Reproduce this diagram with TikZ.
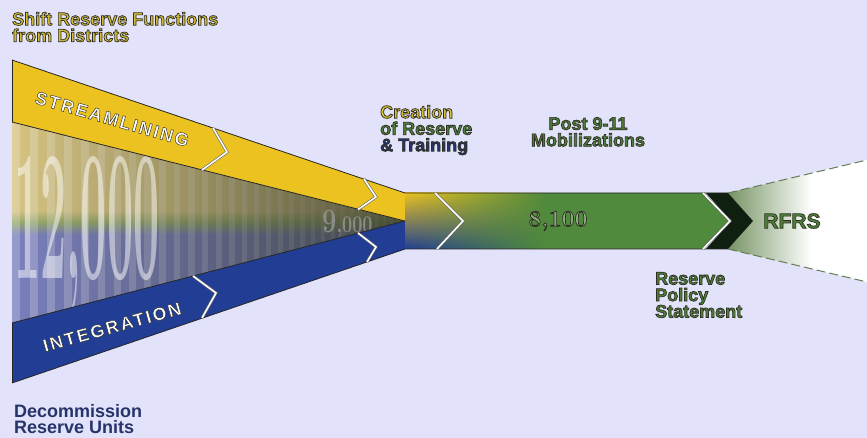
\documentclass[tikz,border=0pt]{standalone}
\usepackage{fontspec}
\usetikzlibrary{fadings}
\newfontfamily\labelfont{Liberation Sans}
\newfontfamily\bandfont{Liberation Sans}[LetterSpace=11]
\newcommand\edged[2][0.7]{\special{pdf:literal direct 2 Tr #1 w 0.18 0.18 0.14 RG}#2\special{pdf:literal direct 0 Tr}}

\definecolor{paper}{RGB}{226,226,250}
\definecolor{bandyellow}{RGB}{236,194,32}
\definecolor{bandblue}{RGB}{33,62,148}
\definecolor{bandgreen}{RGB}{80,138,60}
\definecolor{innertan}{RGB}{214,196,130}
\definecolor{innerslate}{RGB}{122,128,190}
\definecolor{innermix}{RGB}{150,170,110}
\definecolor{tipshade}{RGB}{50,55,40}
\definecolor{navytext}{RGB}{38,52,105}
\definecolor{goldtext}{RGB}{212,188,52}
\definecolor{leaftext}{RGB}{76,128,56}
\definecolor{chevdark}{RGB}{16,32,16}
\definecolor{funnelgreen}{RGB}{118,148,100}

\pgfdeclareverticalshading{innersplit}{100bp}{color(0bp)=(innerslate); color(25bp)=(innerslate); color(47bp)=(innerslate); color(50bp)=(innermix); color(53bp)=(innertan); color(75bp)=(innertan); color(100bp)=(innertan)}
\pgfdeclarehorizontalshading{funnelfade}{100bp}{color(0bp)=(funnelgreen); color(25bp)=(funnelgreen); color(55bp)=(white); color(100bp)=(white)}
\tikzfading[name=tipfade, left color=transparent!100, middle color=transparent!88, right color=transparent!20]
\tikzfading[name=foldfade, left color=transparent!100, middle color=transparent!15, right color=transparent!100]
\tikzfading[name=mixfade, left color=transparent!0, middle color=transparent!35, right color=transparent!100]

\begin{document}
\begin{tikzpicture}[
        x=1pt, y=-1pt,
        rim/.style={draw=black!85, line width=0.8pt, line join=round},
        notch/.style={draw=black!60, line width=0.6pt, double=white, double distance=1.6pt},
        funnelrim/.style={draw=funnelgreen!85!black, line width=1pt, dash pattern=on 9pt off 4pt},
        heading/.style={font=\labelfont\bfseries\fontsize{18}{16.5}\selectfont, align=left, inner sep=0pt},
        bandtext/.style={font=\bandfont\bfseries\fontsize{18}{18}\selectfont, text=white, inner sep=0pt},
        count/.style={font=\rmfamily\bfseries, inner sep=0pt}
    ]
        \fill[paper] (0,0) rectangle (867,438);
        \useasboundingbox (0,0) rectangle (867,438);

        \coordinate (yt) at (12,60);
        \coordinate (yb) at (12,122);
        \coordinate (bt) at (12,323);
        \coordinate (bb) at (12,383);
        \coordinate (jt) at (405,193);
        \coordinate (jm) at (405,221);
        \coordinate (jb) at (405,249);

        % wedge between the two bands
        \shade[shading=innersplit] (yb) -- (jm) -- (bt) -- cycle;
        \begin{scope}
            \clip (yb) -- (jm) -- (bt) -- cycle;
            \foreach \i in {0,...,33}
                \fill[white, opacity=0.22] ({12+18*\i-0.18*\i*\i},100) rectangle ({12+18*\i-0.18*\i*\i+0.45*(18-0.36*\i)},340);
            \fill[tipshade, path fading=tipfade] (12,122) rectangle (405,323);
        \end{scope}
        \node[count, text=white, text opacity=0.5, xscale=0.25, anchor=base west, font=\rmfamily\bfseries\fontsize{186}{186}\selectfont] (bignum) at (14,279) {12,000};
        \node[count, text=white!58!black, text opacity=0.85, xscale=0.75, anchor=base west] (midnum) at (322,233) {{\fontsize{34}{34}\selectfont 9}{\fontsize{24}{24}\selectfont ,000}};

        % bands
        \fill[bandyellow] (yt) -- (jt) -- (jm) -- (yb) -- cycle;
        \fill[bandblue] (bt) -- (jm) -- (jb) -- (bb) -- cycle;
        \fill[bandgreen] (jt) -- (704,193) -- (731,221) -- (704,249) -- (jb) -- cycle;
        \shade[top color=bandyellow, middle color=bandgreen, bottom color=bandblue, path fading=mixfade] (405,193) rectangle (545,249);
        \begin{scope}
            \clip (yt) -- (jt) -- (440,193) -- (440,249) -- (jb) -- (bb) -- cycle;
            \fill[black, path fading=foldfade] (378,150) rectangle (436,290);
        \end{scope}

        % funnel
        \shade[shading=funnelfade] (728,193) -- (867,160) -- (867,282) -- (728,249) -- (753,221) -- cycle;
        \draw[funnelrim] (728,193) -- (867,160);
        \draw[funnelrim] (728,249) -- (867,282);
        \fill[chevdark] (706,193) -- (728,193) -- (753,221) -- (728,249) -- (706,249) -- (731,221) -- cycle;

        \draw[rim] (yt) -- (jt) -- (728,193);
        \draw[rim] (bb) -- (jb) -- (728,249);
        \draw[rim] (yb) -- (jm) -- (bt);
        \draw[rim] (yt) -- (yb);
        \draw[rim] (bt) -- (bb);

        \draw[notch] (213,128) -- (227,152) -- (202,170);
        \draw[notch] (364,179) -- (376,197) -- (358,209.5);
        \draw[notch] (193,276) -- (216,293) -- (202,318);
        \draw[notch] (358,233) -- (376,247) -- (367,262);
        \draw[notch] (435,193) -- (463,221) -- (437,249);
        \draw[notch] (703,193) -- (730,221) -- (703,249);

        \node[bandtext, rotate=-16] (stream) at (112,119) {\edged[0.45]{STREAMLINING}};
        \node[bandtext, rotate=15.5] (integ) at (112,327) {\edged[0.45]{INTEGRATION}};
        \node[count, text=leaftext!65!white, font=\rmfamily\bfseries\fontsize{23}{23}\selectfont] (endnum) at (558,221) {\edged{8,100}};

        \node[heading, text=goldtext, anchor=north west] (shift) at (12,12) {\edged{Shift Reserve Functions}\\\edged{from Districts}};
        \node[heading, anchor=north west] (creation) at (380,105) {\textcolor{goldtext}{\edged{Creation}}\\\textcolor{leaftext}{\edged{of Reserve}}\\\textcolor{navytext}{\edged{\& Training}}};
        \node[heading, text=leaftext, anchor=north, align=center] (post) at (588,117) {\edged{Post 9-11}\\\edged{Mobilizations}};
        \node[heading, text=leaftext, font=\labelfont\bfseries\fontsize{21}{21}\selectfont] (rfrs) at (792,221) {\edged{RFRS}};
        \node[heading, text=leaftext, anchor=north west] (policy) at (655,272) {\edged{Reserve}\\\edged{Policy}\\\edged{Statement}};
        \node[heading, text=navytext, anchor=north west] (decom) at (14,404) {Decommission\\Reserve Units};
    \end{tikzpicture}
\end{document}
